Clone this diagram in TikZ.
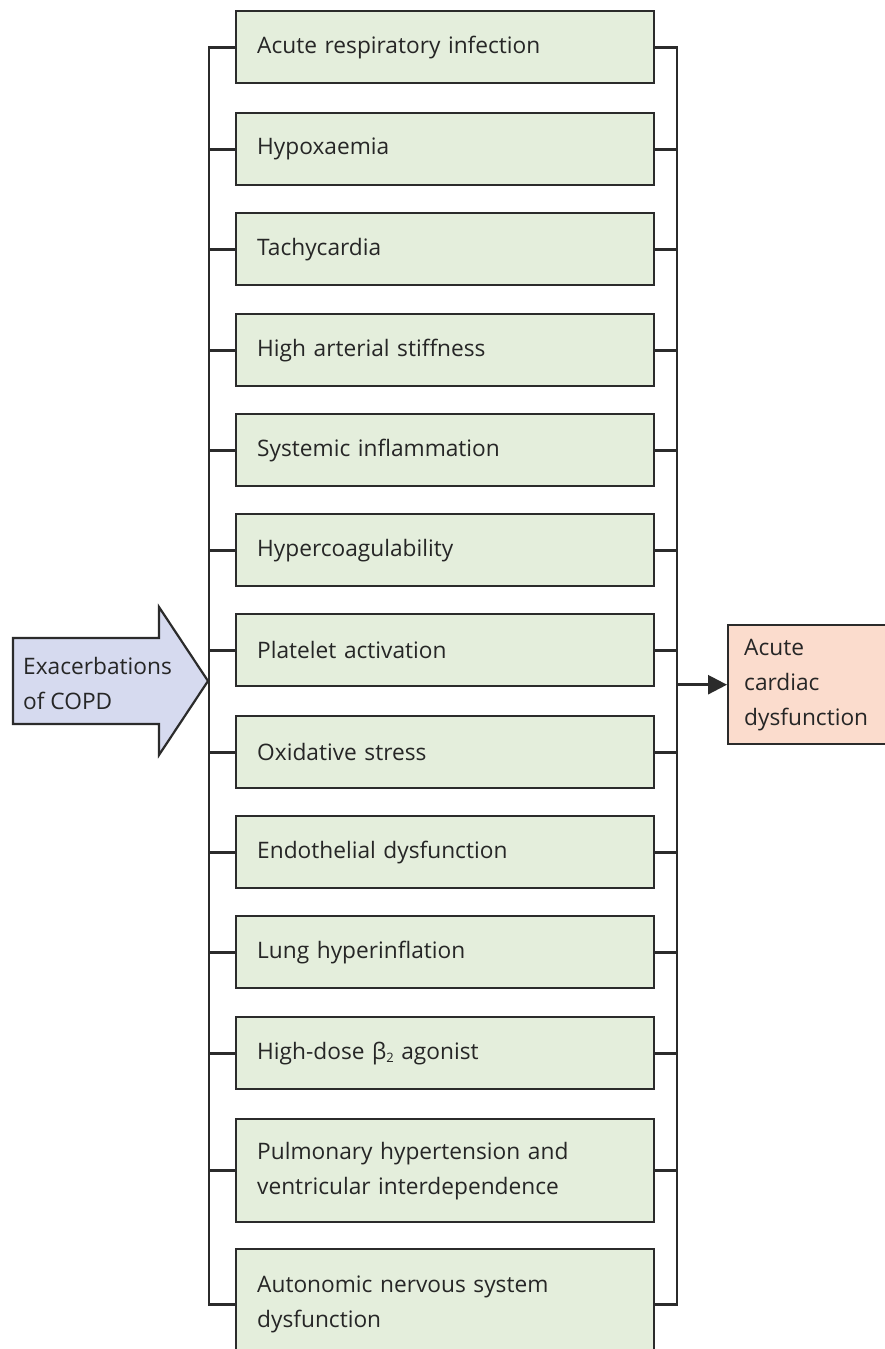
\documentclass[tikz,border=0pt]{standalone}
\usepackage{fontspec}
\setmainfont{Open Sans}
\usetikzlibrary{arrows.meta}
\definecolor{boxgreen}{HTML}{E4EEDC}
\definecolor{boxpeach}{HTML}{FBDCCD}
\definecolor{arrowblue}{HTML}{D6DAEF}
\definecolor{linec}{HTML}{2B2B2B}
\definecolor{textc}{HTML}{262626}
\begin{document}
\begin{tikzpicture}[x=1pt,y=-1pt,
  txt/.style={font=\fontsize{22.7}{35}\selectfont, text=textc},
  gbox/.style={txt, draw=linec, line width=2.4pt, fill=boxgreen, anchor=north west,
    minimum width=418pt, text width=376pt, inner xsep=21pt, inner ysep=0pt, align=left},
  conn/.style={draw=linec, line width=2.6pt},
]
\useasboundingbox (0,0) rectangle (885,1349);
\fill[white] (0,0) rectangle (885,1349);
\coordinate (LB) at (209,0);
\coordinate (RB) at (677,0);

\node[gbox, minimum height=72pt] (b1) at (235,10) {Acute respiratory infection};
\node[gbox, minimum height=72pt] (b2) at (235,112) {Hypoxaemia};
\node[gbox, minimum height=72pt] (b3) at (235,212) {Tachycardia};
\node[gbox, minimum height=72pt] (b4) at (235,313) {High arterial stiffness};
\node[gbox, minimum height=72pt] (b5) at (235,413) {Systemic inflammation};
\node[gbox, minimum height=72pt] (b6) at (235,513) {Hypercoagulability};
\node[gbox, minimum height=72pt] (b7) at (235,613) {Platelet activation};
\node[gbox, minimum height=72pt] (b8) at (235,715) {Oxidative stress};
\node[gbox, minimum height=72pt] (b9) at (235,815) {Endothelial dysfunction};
\node[gbox, minimum height=72pt] (b10) at (235,915) {Lung hyperinflation};
\node[gbox, minimum height=72pt] (b11) at (235,1016) {High-dose β\raisebox{-0.3ex}{\fontsize{13}{13}\selectfont 2} agonist};
\node[gbox, minimum height=103pt] (b12) at (235,1118) {Pulmonary hypertension and\\ventricular interdependence};
\node[gbox, minimum height=110pt] (b13) at (235,1248) {Autonomic nervous system\\dysfunction};

% buses
\draw[conn] (b1.west) -- (b1.west -| LB) -- (b13.west -| LB) -- (b13.west);
\draw[conn] (b1.east) -- (b1.east -| RB) -- (b13.east -| RB) -- (b13.east);
\foreach \i in {2,...,12} {
  \draw[conn] (b\i.west) -- (b\i.west -| LB);
  \draw[conn] (b\i.east) -- (b\i.east -| RB);
}

% input block arrow
\filldraw[fill=arrowblue, draw=linec, line width=2.2pt, line join=miter]
  (13,638) -- (159,638) -- (159,607) -- (208,681) -- (159,755) -- (159,724) -- (13,724) -- cycle;
\node[txt, anchor=west, align=left, inner sep=0pt] (copd) at (23,683) {Exacerbations\\of COPD};

% output
\node[txt, draw=linec, line width=2.4pt, fill=boxpeach, anchor=north west,
  minimum height=119pt, text width=150pt, inner xsep=16pt, align=left] (acd) at (727,624)
  {Acute\\cardiac\\dysfunction};
\draw[conn, -{Triangle[length=19pt,width=19pt]}] (acd.west -| RB) -- (acd.west);
\end{tikzpicture}
\end{document}
